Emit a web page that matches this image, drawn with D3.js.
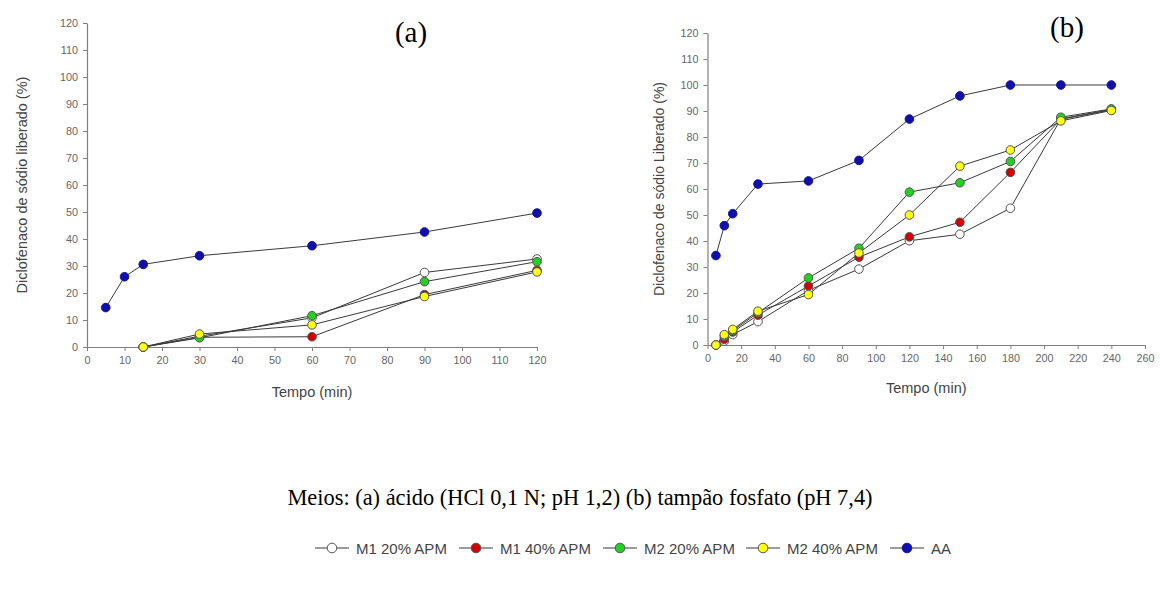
<!DOCTYPE html>
<html>
<head>
<meta charset="utf-8">
<script src="https://cdn.jsdelivr.net/npm/d3@7"></script>
<style>
  html, body { margin: 0; padding: 0; background: #fff; }
  svg { display: block; }
</style>
</head>
<body>
<svg id="chart" width="1160" height="590"></svg>
<script>
// Sampling times (min)
const timesA_AA = [5, 10, 15, 30, 60, 90, 120];
const timesA = [15, 30, 60, 90, 120];
const timesB = [5, 10, 15, 30, 60, 90, 120, 150, 180, 210, 240];

// (a) acid medium, % released
const a_M1_20 = [0, 4.0, 10.8, 27.6, 32.6];
const a_M1_40 = [0, 3.6, 3.8, 19.4, 28.4];
const a_M2_20 = [0, 3.4, 11.6, 24.2, 31.6];
const a_M2_40 = [0, 4.8, 8.2, 18.7, 27.8];
const a_AA    = [14.6, 26.0, 30.6, 33.8, 37.5, 42.6, 49.6];

// (b) phosphate buffer, % released
const b_M1_20 = [0, 1.5, 4.0, 9.0, 21.0, 29.2, 40.1, 42.6, 52.6, 87.0, 90.6];
const b_M1_40 = [0, 2.2, 5.0, 11.5, 22.7, 33.8, 41.6, 47.2, 66.4, 86.8, 90.4];
const b_M2_20 = [0, 3.4, 5.5, 12.4, 25.8, 37.2, 58.8, 62.4, 70.6, 87.6, 90.8];
const b_M2_40 = [0, 4.0, 6.0, 13.0, 19.4, 35.4, 50.0, 68.8, 75.0, 86.2, 90.2];
const b_AA    = [34.4, 45.9, 50.5, 61.9, 63.1, 71.0, 86.9, 95.8, 100, 100, 100];

// Legend labels and marker fills
const seriesNames = ["M1 20% APM", "M1 40% APM", "M2 20% APM", "M2 40% APM", "AA"];
const seriesFills = ["#ffffff", "#d40000", "#22d022", "#ffff10", "#1010a8"];

// Tick labels
const yTicks = d3.range(0, 121, 10);
const xTicksA = d3.range(0, 121, 10);
const xTicksB = d3.range(0, 261, 20);

const caption = "Meios: (a) ácido (HCl 0,1 N; pH 1,2) (b) tampão fosfato (pH 7,4)";

const svg = d3.select("#chart");
const sans = "Arial, 'Liberation Sans', sans-serif";
const serif = "'Liberation Serif', 'Times New Roman', serif";

function panel(cfg) {
  const g = svg.append("g");
  const x = d3.scaleLinear().domain(cfg.xDomain).range(cfg.xRange);
  const y = d3.scaleLinear().domain([0, 120]).range(cfg.yRange);

  const xAxis = g.append("g")
    .attr("transform", `translate(0,${cfg.yRange[0]})`)
    .call(d3.axisBottom(x).tickValues(cfg.xTicks).tickSize(4).tickSizeOuter(0).tickPadding(5));
  const yAxis = g.append("g")
    .attr("transform", `translate(${cfg.xRange[0]},0)`)
    .call(d3.axisLeft(y).tickValues(yTicks).tickSize(4).tickSizeOuter(0).tickPadding(5));
  [xAxis, yAxis].forEach(ax => {
    ax.select(".domain").attr("stroke", "#808080").attr("stroke-width", 1.2);
    ax.selectAll(".tick line").attr("stroke", "#808080");
    ax.selectAll(".tick text").attr("fill", "#666").attr("font-size", 10.8).attr("font-family", sans);
  });

  g.append("text")
    .attr("x", (cfg.xRange[0] + cfg.xRange[1]) / 2)
    .attr("y", cfg.xTitleY)
    .attr("text-anchor", "middle")
    .attr("font-family", sans).attr("font-size", 14.5).attr("fill", "#444")
    .text("Tempo (min)");

  g.append("text")
    .attr("transform", `translate(${cfg.yTitleX},${cfg.yTitleY}) rotate(-90)`)
    .attr("text-anchor", "middle")
    .attr("font-family", sans).attr("font-size", cfg.yTitleSize).attr("fill", "#444")
    .text(cfg.yTitle);

  g.append("text")
    .attr("x", cfg.tagX).attr("y", cfg.tagY)
    .attr("text-anchor", "middle")
    .attr("font-family", serif).attr("font-size", 29).attr("fill", "#000")
    .text(cfg.tag);

  const line = d3.line().x(d => x(d[0])).y(d => y(d[1]));
  cfg.series.forEach((s, i) => {
    const pts = s.t.map((t, k) => [t, s.v[k]]);
    g.append("path")
      .datum(pts)
      .attr("d", line)
      .attr("fill", "none")
      .attr("stroke", "#3a3a3a")
      .attr("stroke-width", 1);
  });
  cfg.series.forEach((s, i) => {
    const pts = s.t.map((t, k) => [t, s.v[k]]);
    g.selectAll(null).data(pts).enter().append("circle")
      .attr("cx", d => x(d[0]))
      .attr("cy", d => y(d[1]))
      .attr("r", 4.3)
      .attr("fill", seriesFills[i])
      .attr("stroke", i === 4 ? "#1010a8" : "#555")
      .attr("stroke-width", 1);
  });
}

panel({
  xDomain: [0, 120], xRange: [87, 537], yRange: [347, 23],
  xTicks: xTicksA,
  xTitleY: 397, yTitleX: 27, yTitleY: 185, yTitleSize: 14.5,
  yTitle: "Diclofenaco de sódio liberado (%)",
  tag: "(a)", tagX: 411, tagY: 42,
  series: [
    { t: timesA, v: a_M1_20 },
    { t: timesA, v: a_M1_40 },
    { t: timesA, v: a_M2_20 },
    { t: timesA, v: a_M2_40 },
    { t: timesA_AA, v: a_AA }
  ]
});

panel({
  xDomain: [0, 260], xRange: [707.5, 1145], yRange: [345, 33],
  xTicks: xTicksB,
  xTitleY: 393, yTitleX: 664, yTitleY: 189, yTitleSize: 14,
  yTitle: "Diclofenaco de sódio Liberado (%)",
  tag: "(b)", tagX: 1067, tagY: 37,
  series: [
    { t: timesB, v: b_M1_20 },
    { t: timesB, v: b_M1_40 },
    { t: timesB, v: b_M2_20 },
    { t: timesB, v: b_M2_40 },
    { t: timesB, v: b_AA }
  ]
});

// Caption under both panels
svg.append("text")
  .attr("x", 580).attr("y", 505)
  .attr("text-anchor", "middle")
  .attr("font-family", serif).attr("font-size", 22.4).attr("fill", "#000")
  .text(caption);

// Legend row
const legendX = [315, 459, 603, 746, 890];
const legY = 548;
const leg = svg.append("g");
seriesNames.forEach((name, i) => {
  const lx = legendX[i];
  leg.append("line")
    .attr("x1", lx).attr("x2", lx + 34)
    .attr("y1", legY).attr("y2", legY)
    .attr("stroke", "#3a3a3a").attr("stroke-width", 1);
  leg.append("circle")
    .attr("cx", lx + 17).attr("cy", legY).attr("r", 4.8)
    .attr("fill", seriesFills[i])
    .attr("stroke", i === 4 ? "#1010a8" : "#555").attr("stroke-width", 1);
  leg.append("text")
    .attr("x", lx + 41).attr("y", legY + 5.5)
    .attr("font-family", sans).attr("font-size", 15).attr("fill", "#444")
    .text(name);
});
</script>
</body>
</html>
